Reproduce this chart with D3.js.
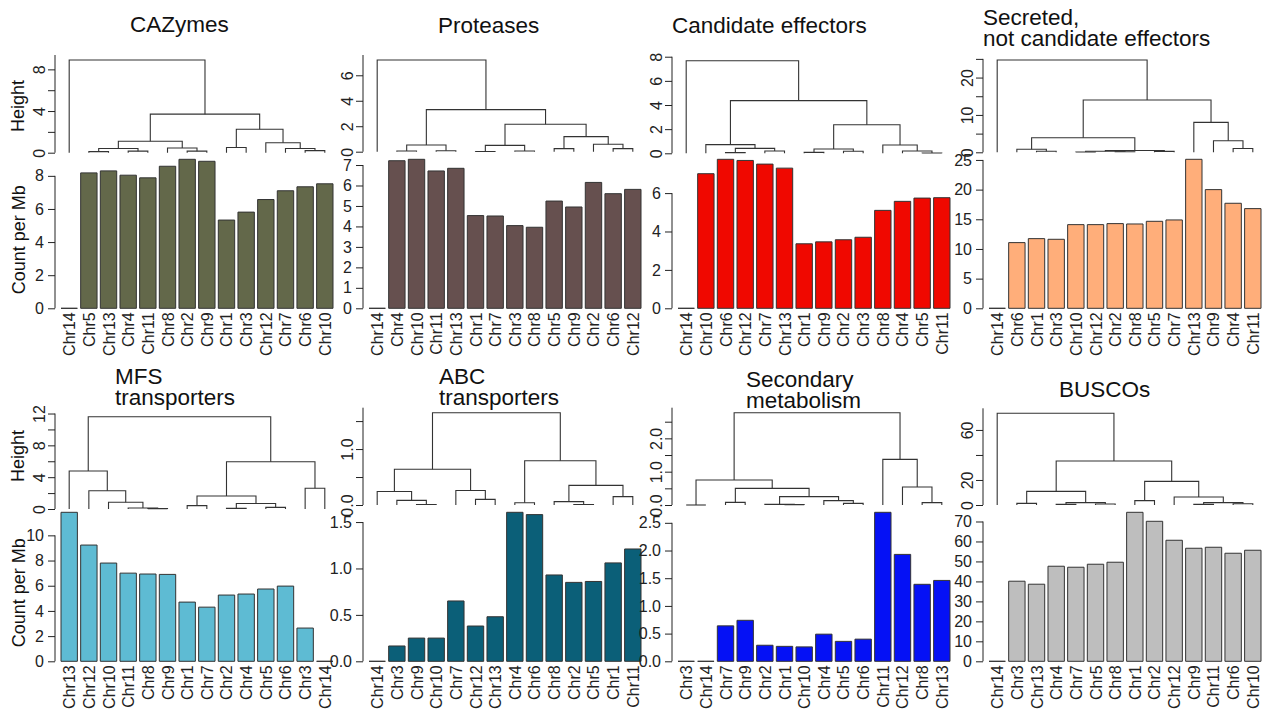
<!DOCTYPE html>
<html>
<head>
<meta charset="utf-8">
<script src="https://cdn.jsdelivr.net/npm/d3@7"></script>
<style>
  body { margin: 0; background: #fff; }
  svg { font-family: "Liberation Sans", Arial, Helvetica, sans-serif; display: block; }
</style>
</head>
<body>
<div id="chart"></div>
<script>
// chromosome order per panel = leaf order of its dendrogram
var cazymesChr = ["Chr14","Chr5","Chr13","Chr4","Chr11","Chr8","Chr2","Chr9","Chr1","Chr3","Chr12","Chr7","Chr6","Chr10"];
var cazymesCount = [0, 8.18, 8.30, 8.04, 7.88, 8.58, 9.0, 8.88, 5.33, 5.81, 6.57, 7.10, 7.34, 7.52];
var cazymesTree = [8.9, "Chr14", [3.7, [1.1, [0.4, [0.1,"Chr5","Chr13"], [0.15,"Chr4","Chr11"]], [0.45,"Chr8",[0.15,"Chr2","Chr9"]]], [2.25, [0.5,"Chr1","Chr3"], [0.95,"Chr12",[0.4,"Chr7",[0.2,"Chr6","Chr10"]]]]]];

var proteasesChr = ["Chr14","Chr4","Chr10","Chr11","Chr13","Chr1","Chr7","Chr3","Chr8","Chr5","Chr9","Chr2","Chr6","Chr12"];
var proteasesCount = [0, 7.21, 7.28, 6.71, 6.84, 4.53, 4.51, 4.04, 3.96, 5.24, 4.95, 6.15, 5.60, 5.81];
var proteasesTree = [7.2, "Chr14", [3.3, [0.53, [0.05,"Chr4","Chr10"], [0.08,"Chr11","Chr13"]], [2.16, [0.5, [0.01,"Chr1","Chr7"], [0.05,"Chr3","Chr8"]], [1.18, [0.24,"Chr5","Chr9"], [0.58,"Chr2",[0.24,"Chr6","Chr12"]]]]]];

var effectorsChr = ["Chr14","Chr10","Chr6","Chr12","Chr7","Chr13","Chr1","Chr9","Chr2","Chr3","Chr8","Chr4","Chr5","Chr11"];
var effectorsCount = [0, 7.01, 7.76, 7.70, 7.51, 7.30, 3.36, 3.46, 3.57, 3.70, 5.10, 5.57, 5.74, 5.76];
var effectorsTree = [7.67, "Chr14", [4.36, [0.72, "Chr10", [0.41, [0.06,"Chr6","Chr12"], [0.19,"Chr7","Chr13"]]], [2.37, [0.36, [0.08,"Chr1","Chr9"], [0.17,"Chr2","Chr3"]], [0.69, "Chr8", [0.19, "Chr4", [0.03,"Chr5","Chr11"]]]]]];

var secretedChr = ["Chr14","Chr6","Chr1","Chr3","Chr10","Chr12","Chr2","Chr8","Chr5","Chr7","Chr13","Chr9","Chr4","Chr11"];
var secretedCount = [0, 11.07, 11.74, 11.63, 14.10, 14.10, 14.27, 14.21, 14.66, 14.89, 25.11, 20.0, 17.70, 16.80];
var secretedTree = [24.7, "Chr14", [14.0, [3.9, [0.8, "Chr6", [0.3,"Chr1","Chr3"]], [0.5, [0.3, [0.1,"Chr10","Chr12"], [0.15,"Chr2","Chr8"]], [0.25,"Chr5","Chr7"]]], [8.0, "Chr13", [3.1, "Chr9", [1.0,"Chr4","Chr11"]]]]];

var mfsChr = ["Chr13","Chr12","Chr10","Chr11","Chr8","Chr9","Chr1","Chr7","Chr2","Chr4","Chr5","Chr6","Chr3","Chr14"];
var mfsCount = [11.83, 9.23, 7.80, 7.00, 6.93, 6.90, 4.70, 4.30, 5.26, 5.34, 5.74, 5.97, 2.64, 0];
var mfsTree = [11.6, [4.77, "Chr13", [2.3, "Chr12", [0.84, "Chr10", [0.13, "Chr11", [0.05,"Chr8","Chr9"]]]]], [5.94, [1.63, [0.42,"Chr1","Chr7"], [0.7, [0.08,"Chr2","Chr4"], [0.2,"Chr5","Chr6"]]], [2.6,"Chr3","Chr14"]]];

var abcChr = ["Chr14","Chr3","Chr9","Chr10","Chr7","Chr12","Chr13","Chr4","Chr6","Chr8","Chr2","Chr5","Chr1","Chr11"];
var abcCount = [0, 0.165, 0.25, 0.25, 0.65, 0.38, 0.48, 1.605, 1.58, 0.93, 0.85, 0.86, 1.06, 1.21];
var abcTree = [1.65, [0.64, [0.24, "Chr14", [0.083, "Chr3", [0.01,"Chr9","Chr10"]]], [0.26, "Chr7", [0.1,"Chr12","Chr13"]]], [0.79, [0.04,"Chr4","Chr6"], [0.35, [0.06,"Chr8",[0.01,"Chr2","Chr5"]], [0.15,"Chr1","Chr11"]]]];

var secmetChr = ["Chr3","Chr14","Chr7","Chr9","Chr2","Chr1","Chr10","Chr4","Chr5","Chr6","Chr11","Chr12","Chr8","Chr13"];
var secmetCount = [0, 0, 0.64, 0.74, 0.29, 0.27, 0.26, 0.49, 0.36, 0.40, 2.69, 1.93, 1.39, 1.46];
var secmetTree = [2.77, [0.75, [0,"Chr3","Chr14"], [0.5, [0.08,"Chr7","Chr9"], [0.25, [0.02,"Chr2",[0.01,"Chr1","Chr10"]], [0.13,"Chr4",[0.05,"Chr5","Chr6"]]]]], [1.37, "Chr11", [0.54, "Chr12", [0.07,"Chr8","Chr13"]]]];

var buscoChr = ["Chr14","Chr3","Chr13","Chr4","Chr7","Chr5","Chr8","Chr1","Chr2","Chr12","Chr9","Chr11","Chr6","Chr10"];
var buscoCount = [0, 40.1, 38.6, 47.6, 47.1, 48.6, 49.6, 74.6, 70.1, 60.6, 56.6, 57.1, 54.1, 55.6];
var buscoTree = [73.3, "Chr14", [35.2, [10.9, [1.3,"Chr3","Chr13"], [1.9, [0.5,"Chr4","Chr7"], [0.8,"Chr5","Chr8"]]], [18.9, [3.5,"Chr1","Chr2"], [6.4, "Chr12", [1.9, [0.5,"Chr9","Chr11"], [1.0,"Chr6","Chr10"]]]]]];

// titles, colours and tick labels
var panelTitles = [["CAZymes"], ["Proteases"], ["Candidate effectors"], ["Secreted,", "not candidate effectors"],
                   ["MFS", "transporters"], ["ABC", "transporters"], ["Secondary", "metabolism"], ["BUSCOs"]];
var barColors = ["#63684a", "#66504f", "#f00800", "#ffae7a", "#5ebbd3", "#0b5f78", "#0511f5", "#bebebe"];
var countTicks = [
  ["0","2","4","6","8"], ["0","1","2","3","4","5","6","7"], ["0","2","4","6"], ["0","5","10","15","20","25"],
  ["0","2","4","6","8","10"], ["0.0","0.5","1.0","1.5"], ["0.0","0.5","1.0","1.5","2.0","2.5"], ["0","10","20","30","40","50","60","70"]
];
var heightTicks = [[0,2,4,6,8], [0,2,4,6], [0,2,4,6,8], [0,5,10,15,20,25], [0,2,4,6,8,10,12], [0,0.5,1,1.5], [0,0.5,1,1.5,2,2.5], [0,20,40,60]];
var heightLabels = [
  ["0","","4","","8"], ["0","2","4","6"], ["0","2","4","6","8"], ["0","","10","","20",""],
  ["0","","4","","8","","12"], ["0.0","","1.0",""], ["0.0","","1.0","","2.0",""], ["0","20","","60"]
];

var panelChr = [cazymesChr, proteasesChr, effectorsChr, secretedChr, mfsChr, abcChr, secmetChr, buscoChr];
var panelCount = [cazymesCount, proteasesCount, effectorsCount, secretedCount, mfsCount, abcCount, secmetCount, buscoCount];
var panelTree = [cazymesTree, proteasesTree, effectorsTree, secretedTree, mfsTree, abcTree, secmetTree, buscoTree];

// layout
var colLeft = [55, 363, 672, 983];
var barZero = [308.3, 661.3], barTop = [159.3, 512.3];
var dendroBase = [152.7, 151.7, 153.3, 152.3, 509, 505, 505, 505];
var dendroTop = [60, 60, 60.7, 60, 416.7, 412.7, 412.7, 413.3];
var titleLeft = [130, 438, 672, 983, 115, 439, 746, 1059];
var titleY = [32, 33, 33, 24.5, 384, 384, 387, 397];
var titleLine = 21;
var heightLabelY = [106, 456];
var ink = "#222";

var svg = d3.select("#chart").append("svg")
    .attr("width", 1266)
    .attr("height", 711);

function drawTree(g, node, x, y) {
    if (typeof node === "string") return {x: x(node) + x.bandwidth() / 2, h: 0};
    var a = drawTree(g, node[1], x, y), b = drawTree(g, node[2], x, y);
    g.append("path")
        .attr("d", "M" + a.x + "," + y(a.h) + "V" + y(node[0]) + "H" + b.x + "V" + y(b.h))
        .attr("fill", "none")
        .attr("stroke", "#333")
        .attr("stroke-width", 1.1);
    return {x: (a.x + b.x) / 2, h: node[0]};
}

function styleAxis(ax) {
    ax.attr("font-size", 16).attr("font-family", null).style("color", ink);
    ax.select(".domain").remove();
}

panelChr.forEach(function (chr, i) {
    var col = i % 4, row = Math.floor(i / 4);
    var left = colLeft[col];
    var counts = panelCount[i], tree = panelTree[i];
    var g = svg.append("g");

    var x = d3.scaleBand().domain(chr).range([left + 6, left + 278]).paddingInner(1 / 6).paddingOuter(0);
    var y = d3.scaleLinear().domain([0, d3.max(counts)]).range([barZero[row], barTop[row]]);
    var yd = d3.scaleLinear().domain([0, tree[0]]).range([dendroBase[i], dendroTop[i]]);

    // bars (a path, so zero counts still show as a flat line)
    g.selectAll("path.bar").data(counts).enter().append("path")
        .attr("class", "bar")
        .attr("d", function (d, k) {
            var x0 = x(chr[k]);
            return "M" + x0 + "," + y(0) + "V" + y(d) + "H" + (x0 + x.bandwidth()) + "V" + y(0) + "Z";
        })
        .attr("fill", barColors[i])
        .attr("stroke", "#333")
        .attr("stroke-width", 1);

    // count axis
    var ticks = countTicks[i];
    var yAxis = g.append("g").attr("transform", "translate(" + left + ",0)")
        .call(d3.axisLeft(y).tickValues(ticks.map(Number)).tickFormat(function (d, k) { return ticks[k]; })
            .tickSize(7).tickPadding(4).tickSizeOuter(0));
    styleAxis(yAxis);
    yAxis.append("line")
        .attr("y1", y(0)).attr("y2", y(+ticks[ticks.length - 1]))
        .attr("stroke", ink);

    // chromosome names
    var xAxis = g.append("g").attr("transform", "translate(0," + barZero[row] + ")")
        .call(d3.axisBottom(x).tickSize(0));
    styleAxis(xAxis);
    xAxis.selectAll(".tick text")
        .attr("y", 0).attr("dy", null)
        .attr("transform", "translate(6,4) rotate(-90)")
        .attr("text-anchor", "end");

    // dendrogram
    drawTree(g, tree, x, yd);
    var hTicks = heightTicks[i], hLabels = heightLabels[i];
    var hAxis = g.append("g").attr("transform", "translate(" + left + ",0)")
        .call(d3.axisLeft(yd).tickValues(hTicks).tickFormat(function (d, k) { return hLabels[k]; })
            .tickSize(7).tickSizeOuter(0));
    styleAxis(hAxis);
    var lastTick = hTicks[hTicks.length - 1];
    hAxis.append("line")
        .attr("y1", yd(0))
        .attr("y2", lastTick >= tree[0] ? yd(lastTick) : dendroTop[i] - 5)
        .attr("stroke", ink);
    hAxis.selectAll(".tick text")
        .attr("x", 0).attr("dy", null)
        .attr("transform", "translate(-10,0) rotate(-90)")
        .attr("text-anchor", "middle");

    // title, one text per line
    panelTitles[i].forEach(function (line, k) {
        svg.append("text")
            .attr("x", titleLeft[i])
            .attr("y", titleY[i] + k * titleLine)
            .attr("font-size", 22.5)
            .attr("fill", "#111")
            .text(line);
    });

    if (col === 0) {
        svg.append("text")
            .attr("transform", "translate(24," + heightLabelY[row] + ") rotate(-90)")
            .attr("text-anchor", "middle")
            .attr("font-size", 18)
            .attr("fill", "#111")
            .text("Height");
        svg.append("text")
            .attr("transform", "translate(25," + (barZero[row] - 68.5) + ") rotate(-90)")
            .attr("text-anchor", "middle")
            .attr("font-size", 18)
            .attr("fill", "#111")
            .text("Count per Mb");
    }
});
</script>
</body>
</html>
